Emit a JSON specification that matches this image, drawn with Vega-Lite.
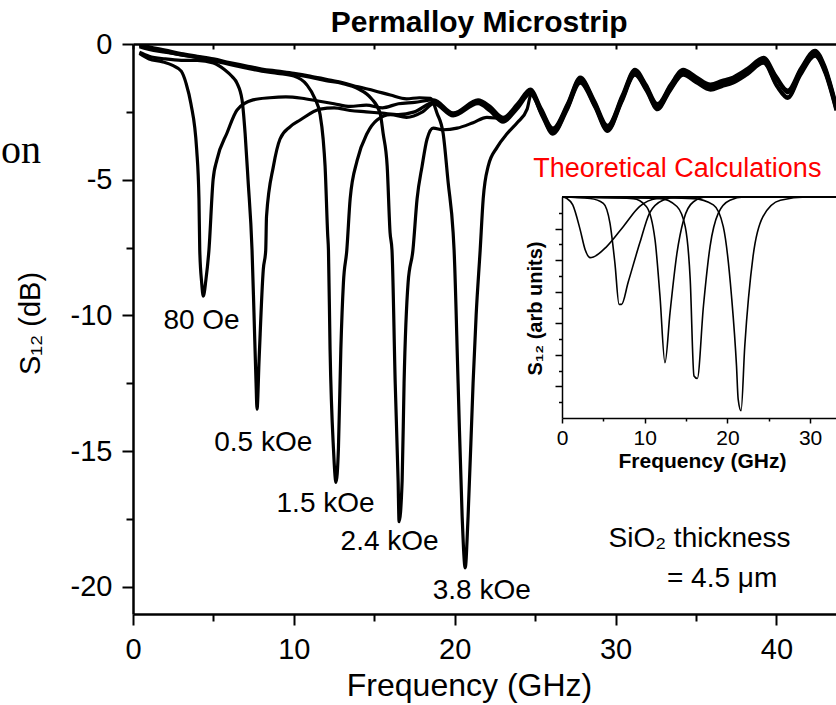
{
 "$schema": "https://vega.github.io/schema/vega-lite/v6.json",
 "width": 703,
 "height": 570,
 "autosize": {"type": "none"},
 "padding": {"left": 133, "top": 44, "right": 0, "bottom": 91},
 "background": "white",
 "config": {
  "view": {"stroke": null},
  "font": "Liberation Sans",
  "axis": {"grid": false, "domainColor": "black", "tickColor": "black", "labelColor": "black", "titleColor": "black", "labelFlush": false, "labelOverlap": false}
 },
 "datasets": {
  "main": [
   {"c":"A","f":0.4,"s":-0.35},{"c":"A","f":1,"s":-0.55},{"c":"A","f":1.8,"s":-0.65},{"c":"A","f":2.5,"s":-0.8},{"c":"A","f":3,"s":-1},{"c":"A","f":3.3,"s":-1.45},{"c":"A","f":3.6,"s":-2.2},{"c":"A","f":3.96,"s":-3.9},{"c":"A","f":4.1,"s":-5.7},{"c":"A","f":4.15,"s":-7.6},{"c":"A","f":4.27,"s":-8.8},{"c":"A","f":4.37,"s":-9.29},{"c":"A","f":4.53,"s":-8.7},{"c":"A","f":4.72,"s":-7.6},{"c":"A","f":4.98,"s":-5},{"c":"A","f":5.22,"s":-4.26},{"c":"A","f":5.85,"s":-3.27},{"c":"A","f":6.47,"s":-2.43},{"c":"A","f":7.46,"s":-2.06},{"c":"A","f":8.5,"s":-1.98},{"c":"A","f":9.5,"s":-1.95},{"c":"A","f":10.5,"s":-2},{"c":"A","f":11.5,"s":-2.1},{"c":"A","f":12.5,"s":-2.2},{"c":"A","f":13.5,"s":-2.3},{"c":"A","f":14.5,"s":-2.25},{"c":"A","f":15.5,"s":-2.35},{"c":"A","f":16.5,"s":-2.2},{"c":"A","f":17.5,"s":-2.15},{"c":"A","f":18.7,"s":-2.06},{"c":"A","f":19.9,"s":-2.54},{"c":"A","f":21.45,"s":-2.06},
   {"c":"A","f":22.2,"s":-2.3},{"c":"A","f":23,"s":-2.7},{"c":"A","f":23.9,"s":-2.2},{"c":"A","f":24.7,"s":-1.66},{"c":"A","f":25.4,"s":-2.4},{"c":"A","f":26.1,"s":-3.1},{"c":"A","f":27,"s":-2.2},{"c":"A","f":27.8,"s":-1.22},{"c":"A","f":28.7,"s":-2.1},{"c":"A","f":29.5,"s":-3},{"c":"A","f":30.4,"s":-1.9},{"c":"A","f":31.2,"s":-0.93},{"c":"A","f":31.9,"s":-1.5},{"c":"A","f":32.6,"s":-2.2},{"c":"A","f":33.4,"s":-1.5},{"c":"A","f":34.2,"s":-0.93},{"c":"A","f":35,"s":-1.2},{"c":"A","f":35.9,"s":-1.48},{"c":"A","f":36.6,"s":-1.35},{"c":"A","f":37.3,"s":-1.22},{"c":"A","f":38.2,"s":-0.9},{"c":"A","f":39.2,"s":-0.49},{"c":"A","f":40,"s":-1.2},{"c":"A","f":40.7,"s":-1.7},{"c":"A","f":41.5,"s":-0.9},{"c":"A","f":42.4,"s":-0.23},{"c":"A","f":43,"s":-0.8},{"c":"A","f":43.7,"s":-2.2},

   {"c":"B","f":0.4,"s":-0.3},{"c":"B","f":1,"s":-0.45},{"c":"B","f":2,"s":-0.55},{"c":"B","f":3,"s":-0.6},{"c":"B","f":4,"s":-0.6},{"c":"B","f":5,"s":-0.7},{"c":"B","f":5.7,"s":-0.95},{"c":"B","f":6.16,"s":-1.2},{"c":"B","f":6.47,"s":-1.45},{"c":"B","f":6.78,"s":-2.06},{"c":"B","f":6.97,"s":-3.3},{"c":"B","f":7.15,"s":-5},{"c":"B","f":7.4,"s":-7.6},{"c":"B","f":7.52,"s":-9.9},{"c":"B","f":7.65,"s":-12.5},{"c":"B","f":7.71,"s":-13.45},{"c":"B","f":7.84,"s":-11.6},{"c":"B","f":8.1,"s":-8.3},{"c":"B","f":8.25,"s":-7.6},{"c":"B","f":8.3,"s":-6.35},{"c":"B","f":8.73,"s":-4.5},{"c":"B","f":9.14,"s":-3.5},{"c":"B","f":9.76,"s":-3.05},{"c":"B","f":10.39,"s":-2.8},{"c":"B","f":11.63,"s":-2.4},{"c":"B","f":12.5,"s":-2.35},{"c":"B","f":13.5,"s":-2.45},{"c":"B","f":14.5,"s":-2.5},{"c":"B","f":15.5,"s":-2.55},{"c":"B","f":16.5,"s":-2.6},{"c":"B","f":17.5,"s":-2.5},{"c":"B","f":18.7,"s":-2.15},{"c":"B","f":19.9,"s":-2.6},{"c":"B","f":21.45,"s":-2.15},
   {"c":"B","f":22.2,"s":-2.4},{"c":"B","f":23,"s":-2.8},{"c":"B","f":23.9,"s":-2.3},{"c":"B","f":24.7,"s":-1.76},{"c":"B","f":25.4,"s":-2.5},{"c":"B","f":26.1,"s":-3.2},{"c":"B","f":27,"s":-2.3},{"c":"B","f":27.8,"s":-1.32},{"c":"B","f":28.7,"s":-2.2},{"c":"B","f":29.5,"s":-3.1},{"c":"B","f":30.4,"s":-2},{"c":"B","f":31.2,"s":-1.03},{"c":"B","f":31.9,"s":-1.6},{"c":"B","f":32.6,"s":-2.3},{"c":"B","f":33.4,"s":-1.6},{"c":"B","f":34.2,"s":-1.03},{"c":"B","f":35,"s":-1.3},{"c":"B","f":35.9,"s":-1.58},{"c":"B","f":36.6,"s":-1.45},{"c":"B","f":37.3,"s":-1.32},{"c":"B","f":38.2,"s":-1},{"c":"B","f":39.2,"s":-0.59},{"c":"B","f":40,"s":-1.3},{"c":"B","f":40.7,"s":-1.8},{"c":"B","f":41.5,"s":-1},{"c":"B","f":42.4,"s":-0.33},{"c":"B","f":43,"s":-0.9},{"c":"B","f":43.7,"s":-2.3},

   {"c":"C","f":0.4,"s":-0.1},{"c":"C","f":1,"s":-0.2},{"c":"C","f":2,"s":-0.3},{"c":"C","f":3,"s":-0.4},{"c":"C","f":4,"s":-0.5},{"c":"C","f":5,"s":-0.62},{"c":"C","f":6,"s":-0.75},{"c":"C","f":7,"s":-0.88},{"c":"C","f":8,"s":-1},{"c":"C","f":9,"s":-1.08},{"c":"C","f":10,"s":-1.18},{"c":"C","f":10.8,"s":-1.5},{"c":"C","f":11.3,"s":-2},{"c":"C","f":11.63,"s":-2.6},{"c":"C","f":11.82,"s":-3.5},{"c":"C","f":11.94,"s":-4.5},{"c":"C","f":12.1,"s":-7},{"c":"C","f":12.15,"s":-7.6},{"c":"C","f":12.25,"s":-11.25},{"c":"C","f":12.46,"s":-14.9},{"c":"C","f":12.62,"s":-16.15},{"c":"C","f":12.77,"s":-14.9},{"c":"C","f":12.92,"s":-11.25},{"c":"C","f":13.08,"s":-8.8},{"c":"C","f":13.29,"s":-7.6},{"c":"C","f":13.5,"s":-5.7},{"c":"C","f":13.93,"s":-4.3},{"c":"C","f":14.55,"s":-3.3},{"c":"C","f":15.17,"s":-2.8},{"c":"C","f":16,"s":-2.6},{"c":"C","f":17,"s":-2.7},{"c":"C","f":18,"s":-2.5},{"c":"C","f":18.7,"s":-2.2},{"c":"C","f":19.9,"s":-2.65},{"c":"C","f":21.45,"s":-2.2},
   {"c":"C","f":22.2,"s":-2.48},{"c":"C","f":23,"s":-2.88},{"c":"C","f":23.9,"s":-2.38},{"c":"C","f":24.7,"s":-1.84},{"c":"C","f":25.4,"s":-2.58},{"c":"C","f":26.1,"s":-3.28},{"c":"C","f":27,"s":-2.38},{"c":"C","f":27.8,"s":-1.4},{"c":"C","f":28.7,"s":-2.28},{"c":"C","f":29.5,"s":-3.18},{"c":"C","f":30.4,"s":-2.08},{"c":"C","f":31.2,"s":-1.11},{"c":"C","f":31.9,"s":-1.68},{"c":"C","f":32.6,"s":-2.38},{"c":"C","f":33.4,"s":-1.68},{"c":"C","f":34.2,"s":-1.11},{"c":"C","f":35,"s":-1.38},{"c":"C","f":35.9,"s":-1.66},{"c":"C","f":36.6,"s":-1.53},{"c":"C","f":37.3,"s":-1.4},{"c":"C","f":38.2,"s":-1.08},{"c":"C","f":39.2,"s":-0.67},{"c":"C","f":40,"s":-1.5},{"c":"C","f":40.7,"s":-1.95},{"c":"C","f":41.5,"s":-1.1},{"c":"C","f":42.4,"s":-0.41},{"c":"C","f":43,"s":-1},{"c":"C","f":43.7,"s":-2.4},

   {"c":"D","f":0.4,"s":-0.05},{"c":"D","f":1,"s":-0.15},{"c":"D","f":2,"s":-0.28},{"c":"D","f":3,"s":-0.4},{"c":"D","f":4,"s":-0.5},{"c":"D","f":5,"s":-0.6},{"c":"D","f":6,"s":-0.72},{"c":"D","f":7,"s":-0.85},{"c":"D","f":8,"s":-0.95},{"c":"D","f":9,"s":-1.05},{"c":"D","f":10,"s":-1.12},{"c":"D","f":11,"s":-1.22},{"c":"D","f":12,"s":-1.35},{"c":"D","f":13,"s":-1.45},{"c":"D","f":14,"s":-1.65},{"c":"D","f":14.8,"s":-2},{"c":"D","f":15.36,"s":-2.55},{"c":"D","f":15.55,"s":-3.3},{"c":"D","f":15.8,"s":-4.5},{"c":"D","f":15.98,"s":-6.95},{"c":"D","f":16.1,"s":-7.6},{"c":"D","f":16.3,"s":-12.5},{"c":"D","f":16.48,"s":-16.1},{"c":"D","f":16.54,"s":-17.6},{"c":"D","f":16.73,"s":-16.1},{"c":"D","f":16.85,"s":-12.5},{"c":"D","f":17.1,"s":-8.8},{"c":"D","f":17.4,"s":-7.6},{"c":"D","f":17.66,"s":-5.7},{"c":"D","f":17.97,"s":-4.5},{"c":"D","f":18.28,"s":-3.5},{"c":"D","f":18.66,"s":-3.1},{"c":"D","f":19.28,"s":-3.16},{"c":"D","f":20.15,"s":-3.1},{"c":"D","f":21.14,"s":-2.9},{"c":"D","f":22,"s":-2.7},
   {"c":"D","f":23,"s":-2.75},{"c":"D","f":23.9,"s":-2.25},{"c":"D","f":24.7,"s":-1.71},{"c":"D","f":25.4,"s":-2.45},{"c":"D","f":26.1,"s":-3.15},{"c":"D","f":27,"s":-2.25},{"c":"D","f":27.8,"s":-1.27},{"c":"D","f":28.7,"s":-2.15},{"c":"D","f":29.5,"s":-3.05},{"c":"D","f":30.4,"s":-1.95},{"c":"D","f":31.2,"s":-0.98},{"c":"D","f":31.9,"s":-1.55},{"c":"D","f":32.6,"s":-2.25},{"c":"D","f":33.4,"s":-1.55},{"c":"D","f":34.2,"s":-0.98},{"c":"D","f":35,"s":-1.25},{"c":"D","f":35.9,"s":-1.53},{"c":"D","f":36.6,"s":-1.4},{"c":"D","f":37.3,"s":-1.27},{"c":"D","f":38.2,"s":-0.95},{"c":"D","f":39.2,"s":-0.54},{"c":"D","f":40,"s":-1.25},{"c":"D","f":40.7,"s":-1.75},{"c":"D","f":41.5,"s":-0.95},{"c":"D","f":42.4,"s":-0.28},{"c":"D","f":43,"s":-0.85},{"c":"D","f":43.7,"s":-2.25},

   {"c":"E","f":0.4,"s":0},{"c":"E","f":1,"s":-0.1},{"c":"E","f":2,"s":-0.22},{"c":"E","f":3,"s":-0.35},{"c":"E","f":4,"s":-0.45},{"c":"E","f":5,"s":-0.55},{"c":"E","f":6,"s":-0.68},{"c":"E","f":7,"s":-0.8},{"c":"E","f":8,"s":-0.92},{"c":"E","f":9,"s":-1},{"c":"E","f":10,"s":-1.08},{"c":"E","f":11,"s":-1.18},{"c":"E","f":12,"s":-1.3},{"c":"E","f":13,"s":-1.42},{"c":"E","f":14,"s":-1.58},{"c":"E","f":15,"s":-1.72},{"c":"E","f":16,"s":-1.88},{"c":"E","f":17,"s":-2.02},{"c":"E","f":17.8,"s":-1.98},{"c":"E","f":18.5,"s":-2},{"c":"E","f":18.9,"s":-2.55},{"c":"E","f":19.28,"s":-3.3},{"c":"E","f":19.59,"s":-5.1},{"c":"E","f":19.9,"s":-6.95},{"c":"E","f":19.96,"s":-7.6},{"c":"E","f":20.21,"s":-12.5},{"c":"E","f":20.46,"s":-17.4},{"c":"E","f":20.65,"s":-19.3},{"c":"E","f":20.83,"s":-17.4},{"c":"E","f":21.14,"s":-12.5},{"c":"E","f":21.33,"s":-10},{"c":"E","f":21.58,"s":-7.6},{"c":"E","f":21.77,"s":-5.7},{"c":"E","f":22.08,"s":-4.5},{"c":"E","f":22.64,"s":-3.8},{"c":"E","f":23.26,"s":-3.3},{"c":"E","f":23.88,"s":-2.9},{"c":"E","f":24.5,"s":-2.4},{"c":"E","f":24.75,"s":-1.85},
   {"c":"E","f":25.4,"s":-2.62},{"c":"E","f":26.1,"s":-3.32},{"c":"E","f":27,"s":-2.42},{"c":"E","f":27.8,"s":-1.44},{"c":"E","f":28.7,"s":-2.32},{"c":"E","f":29.5,"s":-3.22},{"c":"E","f":30.4,"s":-2.12},{"c":"E","f":31.2,"s":-1.15},{"c":"E","f":31.9,"s":-1.72},{"c":"E","f":32.6,"s":-2.42},{"c":"E","f":33.4,"s":-1.72},{"c":"E","f":34.2,"s":-1.15},{"c":"E","f":35,"s":-1.42},{"c":"E","f":35.9,"s":-1.7},{"c":"E","f":36.6,"s":-1.57},{"c":"E","f":37.3,"s":-1.44},{"c":"E","f":38.2,"s":-1.12},{"c":"E","f":39.2,"s":-0.71},{"c":"E","f":40,"s":-1.55},{"c":"E","f":40.7,"s":-2},{"c":"E","f":41.5,"s":-1.15},{"c":"E","f":42.4,"s":-0.45},{"c":"E","f":43,"s":-1.05},{"c":"E","f":43.7,"s":-2.45}
  ],
  "inset": [
   {"c":"1","f":0,"v":0},{"c":"1","f":0.6,"v":-0.05},{"c":"1","f":1.3,"v":-0.25},{"c":"1","f":2.2,"v":-1.04},{"c":"1","f":2.8,"v":-1.67},{"c":"1","f":3.4,"v":-1.92},{"c":"1","f":3.8,"v":-1.9},{"c":"1","f":5.4,"v":-1.57},{"c":"1","f":7.4,"v":-0.94},{"c":"1","f":9.4,"v":-0.3},{"c":"1","f":11.45,"v":-0.05},{"c":"1","f":14,"v":0},{"c":"1","f":33.2,"v":0},
   {"c":"2","f":0,"v":0},{"c":"2","f":3.4,"v":-0.05},{"c":"2","f":5,"v":-0.2},{"c":"2","f":5.8,"v":-0.83},{"c":"2","f":6.4,"v":-2.1},{"c":"2","f":6.9,"v":-3.4},{"c":"2","f":7.2,"v":-3.4},{"c":"2","f":8,"v":-2.7},{"c":"2","f":9.4,"v":-1.46},{"c":"2","f":10.6,"v":-0.5},{"c":"2","f":12.2,"v":-0.1},{"c":"2","f":14,"v":0},{"c":"2","f":33.2,"v":0},
   {"c":"3","f":0,"v":0},{"c":"3","f":8.6,"v":-0.05},{"c":"3","f":10.2,"v":-0.3},{"c":"3","f":11.25,"v":-1.36},{"c":"3","f":11.85,"v":-3.15},{"c":"3","f":12.45,"v":-5.25},{"c":"3","f":13.06,"v":-3.67},{"c":"3","f":13.9,"v":-1.78},{"c":"3","f":14.7,"v":-0.73},{"c":"3","f":15.9,"v":-0.15},{"c":"3","f":17.5,"v":0},{"c":"3","f":33.2,"v":0},
   {"c":"4","f":0,"v":0},{"c":"4","f":11.9,"v":-0.05},{"c":"4","f":13.9,"v":-0.3},{"c":"4","f":14.9,"v":-0.94},{"c":"4","f":15.5,"v":-2.6},{"c":"4","f":15.96,"v":-5.67},{"c":"4","f":16.36,"v":-5.75},{"c":"4","f":17.1,"v":-3.46},{"c":"4","f":17.9,"v":-1.57},{"c":"4","f":18.9,"v":-0.51},{"c":"4","f":20.3,"v":-0.1},{"c":"4","f":22,"v":0},{"c":"4","f":33.2,"v":0},
   {"c":"5","f":0,"v":0},{"c":"5","f":15.9,"v":-0.05},{"c":"5","f":18.3,"v":-0.25},{"c":"5","f":19.5,"v":-0.94},{"c":"5","f":20.5,"v":-3.15},{"c":"5","f":21.1,"v":-5.35},{"c":"5","f":21.3,"v":-6.4},{"c":"5","f":21.65,"v":-6.77},{"c":"5","f":22.1,"v":-4.72},{"c":"5","f":23.1,"v":-1.88},{"c":"5","f":24.3,"v":-0.62},{"c":"5","f":26.4,"v":-0.1},{"c":"5","f":29.6,"v":0},{"c":"5","f":33.2,"v":0}
  ],
  "labels": [
   {"t":"80 Oe","f":4.26,"s":-10.51},{"t":"0.5 kOe","f":8.1,"s":-14.99},{"t":"1.5 kOe","f":11.97,"s":-17.25},{"t":"2.4 kOe","f":15.95,"s":-18.66},{"t":"3.8 kOe","f":21.68,"s":-20.44}
  ],
  "sio2": [
   {"t":"SiO₂ thickness","f":29.56,"s":-18.53},{"t":"= 4.5 μm","f":33.19,"s":-20.0}
  ]
 },
 "layer": [
  {
   "layer": [
    {
     "data": {"name": "main"},
     "mark": {"type": "line", "color": "black", "strokeWidth": 3.2, "strokeJoin": "round", "interpolate": "monotone", "clip": true},
     "encoding": {
      "x": {"field": "f", "type": "quantitative", "scale": {"domain": [0, 43.7], "nice": false, "zero": false},
       "axis": {"orient": "bottom", "values": [0, 10, 20, 30, 40], "tickSize": 11, "tickWidth": 2, "domainWidth": 2.5, "labelFontSize": 29, "labelPadding": 10, "title": "Frequency (GHz)", "titleFontSize": 32, "titleFontWeight": "normal", "titleX": 336, "titleY": 81, "titleBaseline": "alphabetic"}},
      "y": {"field": "s", "type": "quantitative", "scale": {"domain": [-21, 0], "nice": false, "zero": false},
       "axis": {"orient": "left", "values": [0, -5, -10, -15, -20], "tickSize": 11, "tickWidth": 2, "domainWidth": 2.5, "labelFontSize": 29, "labelPadding": 10, "labelExpr": "replace(datum.label, '\u2212', '-')", "title": "S₁₂ (dB)", "titleFontSize": 29, "titleFontWeight": "normal", "titleX": -94, "titleY": 279, "titleBaseline": "alphabetic"}},
      "detail": {"field": "c", "type": "nominal"}
     }
    },
    {
     "data": {"name": "labels"},
     "mark": {"type": "text", "fontSize": 28, "align": "center", "baseline": "alphabetic", "color": "black"},
     "encoding": {
      "x": {"field": "f", "type": "quantitative", "scale": {"domain": [0, 43.7], "nice": false, "zero": false},
       "axis": {"orient": "bottom", "values": [5, 15, 25, 35], "tickSize": 7, "tickWidth": 2, "domain": false, "labels": false, "title": null}},
      "y": {"field": "s", "type": "quantitative", "scale": {"domain": [-21, 0], "nice": false, "zero": false},
       "axis": {"orient": "left", "values": [-2.5, -7.5, -12.5, -17.5], "tickSize": 7, "tickWidth": 2, "domain": false, "labels": false, "title": null}},
      "text": {"field": "t"}
     }
    },
    {
     "data": {"name": "sio2"},
     "mark": {"type": "text", "fontSize": 28, "align": "left", "baseline": "alphabetic", "color": "black"},
     "encoding": {
      "x": {"field": "f", "type": "quantitative", "scale": {"domain": [0, 43.7], "nice": false, "zero": false},
       "axis": {"orient": "top", "values": [0, 5, 10, 15, 20, 25, 30, 35, 40], "tickSize": -5, "tickWidth": 2, "domainWidth": 2.5, "labels": false, "title": null}},
      "y": {"field": "s", "type": "quantitative", "scale": {"domain": [-21, 0], "nice": false, "zero": false}, "axis": null},
      "text": {"field": "t"}
     }
    },
    {
     "data": {"values": [{"t": "Theoretical Calculations", "f": 24.88, "s": -4.89}]},
     "mark": {"type": "text", "fontSize": 27, "align": "left", "baseline": "alphabetic", "color": "#ff0000"},
     "encoding": {
      "x": {"field": "f", "type": "quantitative", "scale": {"domain": [0, 43.7], "nice": false, "zero": false}, "axis": null},
      "y": {"field": "s", "type": "quantitative", "scale": {"domain": [-21, 0], "nice": false, "zero": false}, "axis": null},
      "text": {"field": "t"}
     }
    },
    {
     "data": {"values": [{"t": "Permalloy Microstrip", "f": 21.52, "s": 0.45}]},
     "mark": {"type": "text", "fontSize": 30, "fontWeight": "bold", "align": "center", "baseline": "alphabetic", "color": "black"},
     "encoding": {
      "x": {"field": "f", "type": "quantitative", "scale": {"domain": [0, 43.7], "nice": false, "zero": false}, "axis": null},
      "y": {"field": "s", "type": "quantitative", "scale": {"domain": [-21, 0], "nice": false, "zero": false}, "axis": null},
      "text": {"field": "t"}
     }
    },
    {
     "data": {"values": [{"t": "on", "f": -5.72, "s": -4.375}]},
     "mark": {"type": "text", "font": "Liberation Serif", "fontSize": 40, "align": "right", "baseline": "alphabetic", "color": "black"},
     "encoding": {
      "x": {"field": "f", "type": "quantitative", "scale": {"domain": [0, 43.7], "nice": false, "zero": false}, "axis": null},
      "y": {"field": "s", "type": "quantitative", "scale": {"domain": [-21, 0], "nice": false, "zero": false}, "axis": null},
      "text": {"field": "t"}
     }
    }
   ],
   "resolve": {"axis": {"x": "independent", "y": "independent"}}
  },
  {
   "layer": [
    {
     "data": {"name": "inset"},
     "mark": {"type": "line", "color": "black", "strokeWidth": 1.6, "strokeJoin": "round", "interpolate": "monotone"},
     "encoding": {
      "x": {"field": "f", "type": "quantitative", "scale": {"domain": [0, 33.13], "range": [429, 703], "nice": false, "zero": false},
       "axis": {"orient": "bottom", "offset": -196, "values": [0, 10, 20, 30], "tickSize": 5, "tickWidth": 1.5, "domainWidth": 1.5, "labelFontSize": 21, "labelPadding": 4, "title": "Frequency (GHz)", "titleFontSize": 21, "titleFontWeight": "bold", "titleX": 569, "titleY": 49, "titleBaseline": "alphabetic"}},
      "y": {"field": "v", "type": "quantitative", "scale": {"domain": [-7, 0], "range": [374, 153], "nice": false, "zero": false},
       "axis": {"orient": "left", "offset": -429, "values": [-1, -2, -3, -4, -5, -6], "tickSize": 7, "tickWidth": 1.5, "domainWidth": 1.5, "labels": false, "title": "S₁₂ (arb units)", "titleFontSize": 20, "titleFontWeight": "bold", "titleX": -21, "titleY": 264, "titleBaseline": "alphabetic"}},
      "detail": {"field": "c", "type": "nominal"}
     }
    },
    {
     "data": {"values": [{}]},
     "mark": {"type": "rule", "color": "black", "strokeWidth": 2},
     "encoding": {
      "x": {"datum": 0, "type": "quantitative", "scale": {"domain": [0, 33.13], "range": [429, 703], "nice": false, "zero": false},
       "axis": {"orient": "bottom", "offset": -196, "values": [5, 15, 25], "tickSize": 3, "tickWidth": 1.5, "domain": false, "labels": false, "title": null}},
      "x2": {"datum": 33.13},
      "y": {"datum": 0, "type": "quantitative", "scale": {"domain": [-7, 0], "range": [374, 153], "nice": false, "zero": false},
       "axis": {"orient": "left", "offset": -429, "values": [-0.5, -1.5, -2.5, -3.5, -4.5, -5.5, -6.5], "tickSize": 3.5, "tickWidth": 1.5, "domain": false, "labels": false, "title": null}}
     }
    }
   ],
   "resolve": {"axis": {"x": "independent", "y": "independent"}}
  }
 ],
 "resolve": {"scale": {"x": "independent", "y": "independent"}, "axis": {"x": "independent", "y": "independent"}}
}
